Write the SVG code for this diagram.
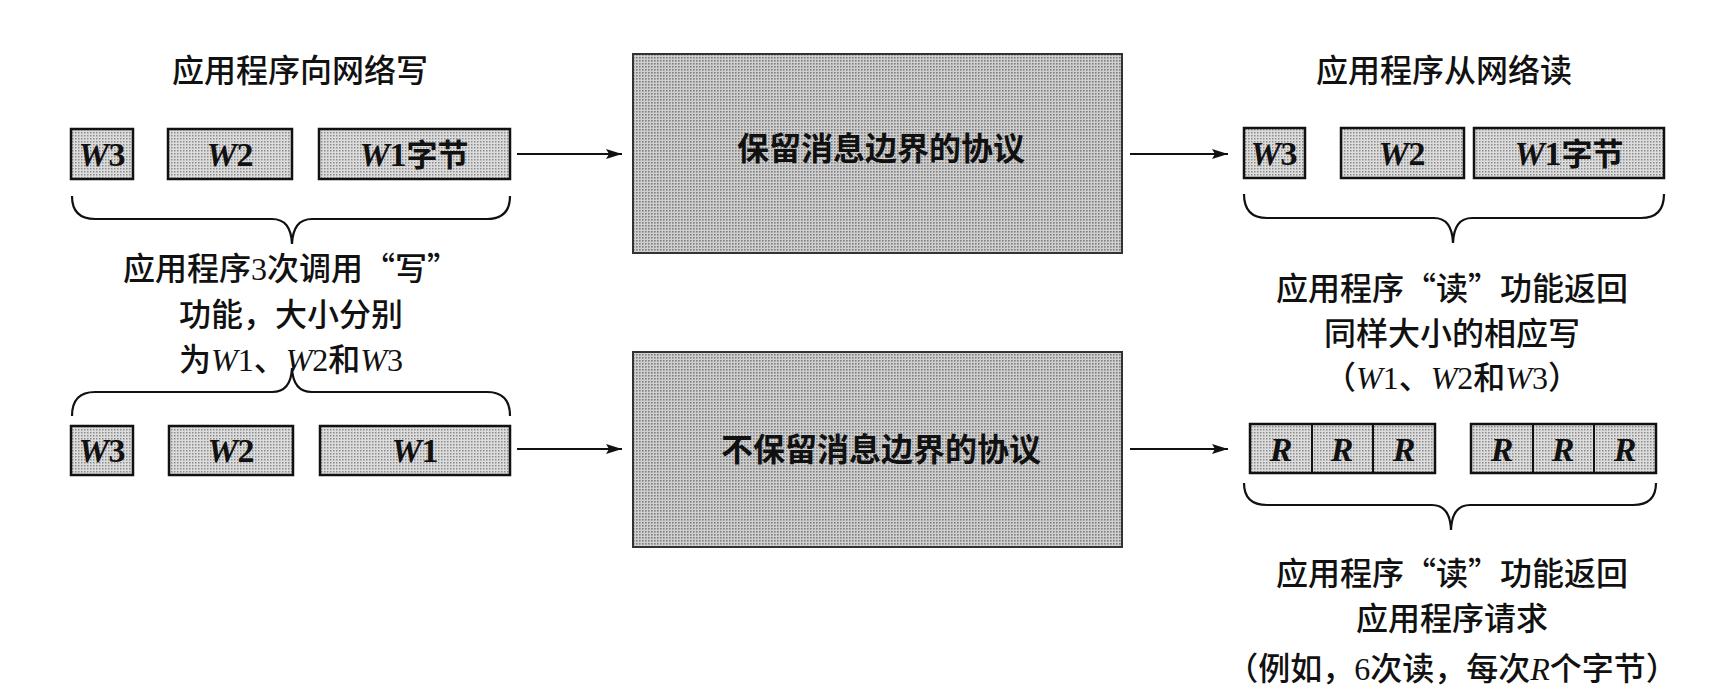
<svg xmlns="http://www.w3.org/2000/svg" width="1727" height="700" viewBox="0 0 1727 700">
<defs>
<pattern id="dots" width="3" height="3" patternUnits="userSpaceOnUse">
<rect width="3" height="3" fill="#dcdcdc"/>
<rect width="1.5" height="1.5" fill="#8c8c8c"/>
</pattern>
<pattern id="dots2" width="3" height="3" patternUnits="userSpaceOnUse">
<rect width="3" height="3" fill="#cfcfcf"/>
<rect width="1.6" height="1.6" fill="#7e7e7e"/>
</pattern>
<marker id="arr" viewBox="0 0 16 10" refX="16" refY="5" markerWidth="16" markerHeight="10" markerUnits="userSpaceOnUse" orient="auto">
<path d="M0,0 L16,5 L0,10 L3,5 Z" fill="#111"/>
</marker>
</defs>
<style>
.cn{font-family:"Noto Sans CJK SC","Noto Sans",sans-serif;font-size:32px;font-weight:500;fill:#111;text-anchor:middle}
.cb{font-family:"Noto Sans CJK SC","Noto Sans",sans-serif;font-size:32px;font-weight:700;fill:#111;text-anchor:middle}
.it{font-family:"Liberation Serif",serif;font-style:italic}
.rm{font-family:"Liberation Serif",serif}
.bx{fill:url(#dots);stroke:#111;stroke-width:2.5}
.big{fill:url(#dots2);stroke:#333;stroke-width:2}
.lbl{font-family:"Liberation Serif",serif;font-style:italic;font-weight:700;font-size:34px;fill:#111;text-anchor:middle}
.up{font-style:normal}
.zh{font-family:"Noto Sans CJK SC",sans-serif;font-style:normal;font-size:31px}
.brace{fill:none;stroke:#111;stroke-width:2.2}
.conn{fill:none;stroke:#111;stroke-width:2}
</style>

<g id="title-left"><text class="cn" x="300" y="82">应用程序向网络写</text></g>
<g id="title-right"><text class="cn" x="1444" y="82">应用程序从网络读</text></g>

<g id="writes-top">
<rect class="bx" x="71" y="129" width="62" height="50"/>
<text class="lbl" x="102" y="166">W<tspan class="up">3</tspan></text>
<rect class="bx" x="168" y="129" width="124" height="50"/>
<text class="lbl" x="230" y="166">W<tspan class="up">2</tspan></text>
<rect class="bx" x="319" y="129" width="191" height="50"/>
<text class="lbl" x="414" y="166">W<tspan class="up">1</tspan><tspan class="zh">字节</tspan></text>
</g>

<g id="writes-bottom">
<rect class="bx" x="71" y="426" width="62" height="49"/>
<text class="lbl" x="102" y="462">W<tspan class="up">3</tspan></text>
<rect class="bx" x="169" y="426" width="124" height="49"/>
<text class="lbl" x="231" y="462">W<tspan class="up">2</tspan></text>
<rect class="bx" x="320" y="426" width="190" height="49"/>
<text class="lbl" x="415" y="462">W<tspan class="up">1</tspan></text>
</g>

<g id="proto-keep">
<rect class="big" x="633" y="54" width="489" height="199"/>
<text class="cb" x="881" y="160">保留消息边界的协议</text>
</g>

<g id="proto-nokeep">
<rect class="big" x="633" y="352" width="489" height="195"/>
<text class="cb" x="881" y="461">不保留消息边界的协议</text>
</g>

<g id="reads-top">
<rect class="bx" x="1244" y="128" width="61" height="50"/>
<text class="lbl" x="1274" y="165">W<tspan class="up">3</tspan></text>
<rect class="bx" x="1341" y="128" width="123" height="50"/>
<text class="lbl" x="1402" y="165">W<tspan class="up">2</tspan></text>
<rect class="bx" x="1474" y="128" width="190" height="50"/>
<text class="lbl" x="1569" y="165">W<tspan class="up">1</tspan><tspan class="zh">字节</tspan></text>
</g>

<g id="reads-bottom">
<rect class="bx" x="1250" y="424" width="185" height="49"/>
<line x1="1312" y1="424" x2="1312" y2="473" stroke="#111" stroke-width="2"/>
<line x1="1373" y1="424" x2="1373" y2="473" stroke="#111" stroke-width="2"/>
<text class="lbl" x="1281" y="461">R</text>
<text class="lbl" x="1342" y="461">R</text>
<text class="lbl" x="1404" y="461">R</text>
<rect class="bx" x="1471" y="424" width="185" height="49"/>
<line x1="1533" y1="424" x2="1533" y2="473" stroke="#111" stroke-width="2"/>
<line x1="1594" y1="424" x2="1594" y2="473" stroke="#111" stroke-width="2"/>
<text class="lbl" x="1502" y="461">R</text>
<text class="lbl" x="1563" y="461">R</text>
<text class="lbl" x="1625" y="461">R</text>
</g>

<g id="braces">
<path class="brace" d="M72,196 Q72,219 95,219 L272,219 Q291,219 292,244 Q293,219 312,219 L487,219 Q510,219 510,196"/>
<path class="brace" d="M72,416 Q72,392 95,392 L272,392 Q291,392 292,368 Q293,392 312,392 L487,392 Q510,392 510,416"/>
<path class="brace" d="M1244,194 Q1244,218 1267,218 L1434,218 Q1452,218 1453,243 Q1454,218 1472,218 L1641,218 Q1664,218 1664,194"/>
<path class="brace" d="M1244,483 Q1244,505 1267,505 L1432,505 Q1450,505 1451,530 Q1452,505 1470,505 L1633,505 Q1656,505 1656,483"/>
</g>

<g id="connectors">
<line class="conn" x1="517" y1="154" x2="622" y2="154" marker-end="url(#arr)"/>
<line class="conn" x1="1130" y1="154" x2="1228" y2="154" marker-end="url(#arr)"/>
<line class="conn" x1="517" y1="449" x2="622" y2="449" marker-end="url(#arr)"/>
<line class="conn" x1="1130" y1="449" x2="1228" y2="449" marker-end="url(#arr)"/>
</g>

<g id="note-left">
<text class="cn" x="291" y="280">应用程序<tspan class="rm">3</tspan>次调用“写”</text>
<text class="cn" x="291" y="326">功能，大小分别</text>
<text class="cn" x="291" y="371">为<tspan class="it">W</tspan><tspan class="rm">1</tspan>、<tspan class="it">W</tspan><tspan class="rm">2</tspan>和<tspan class="it">W</tspan><tspan class="rm">3</tspan></text>
</g>

<g id="note-right-top">
<text class="cn" x="1452" y="300">应用程序“读”功能返回</text>
<text class="cn" x="1452" y="345">同样大小的相应写</text>
<text class="cn" x="1452" y="389">（<tspan class="it">W</tspan><tspan class="rm">1</tspan>、<tspan class="it">W</tspan><tspan class="rm">2</tspan>和<tspan class="it">W</tspan><tspan class="rm">3</tspan>）</text>
</g>

<g id="note-right-bottom">
<text class="cn" x="1452" y="585">应用程序“读”功能返回</text>
<text class="cn" x="1452" y="630">应用程序请求</text>
<text class="cn" x="1452" y="680">（例如，<tspan class="rm">6</tspan>次读，每次<tspan class="it">R</tspan>个字节）</text>
</g>
</svg>
